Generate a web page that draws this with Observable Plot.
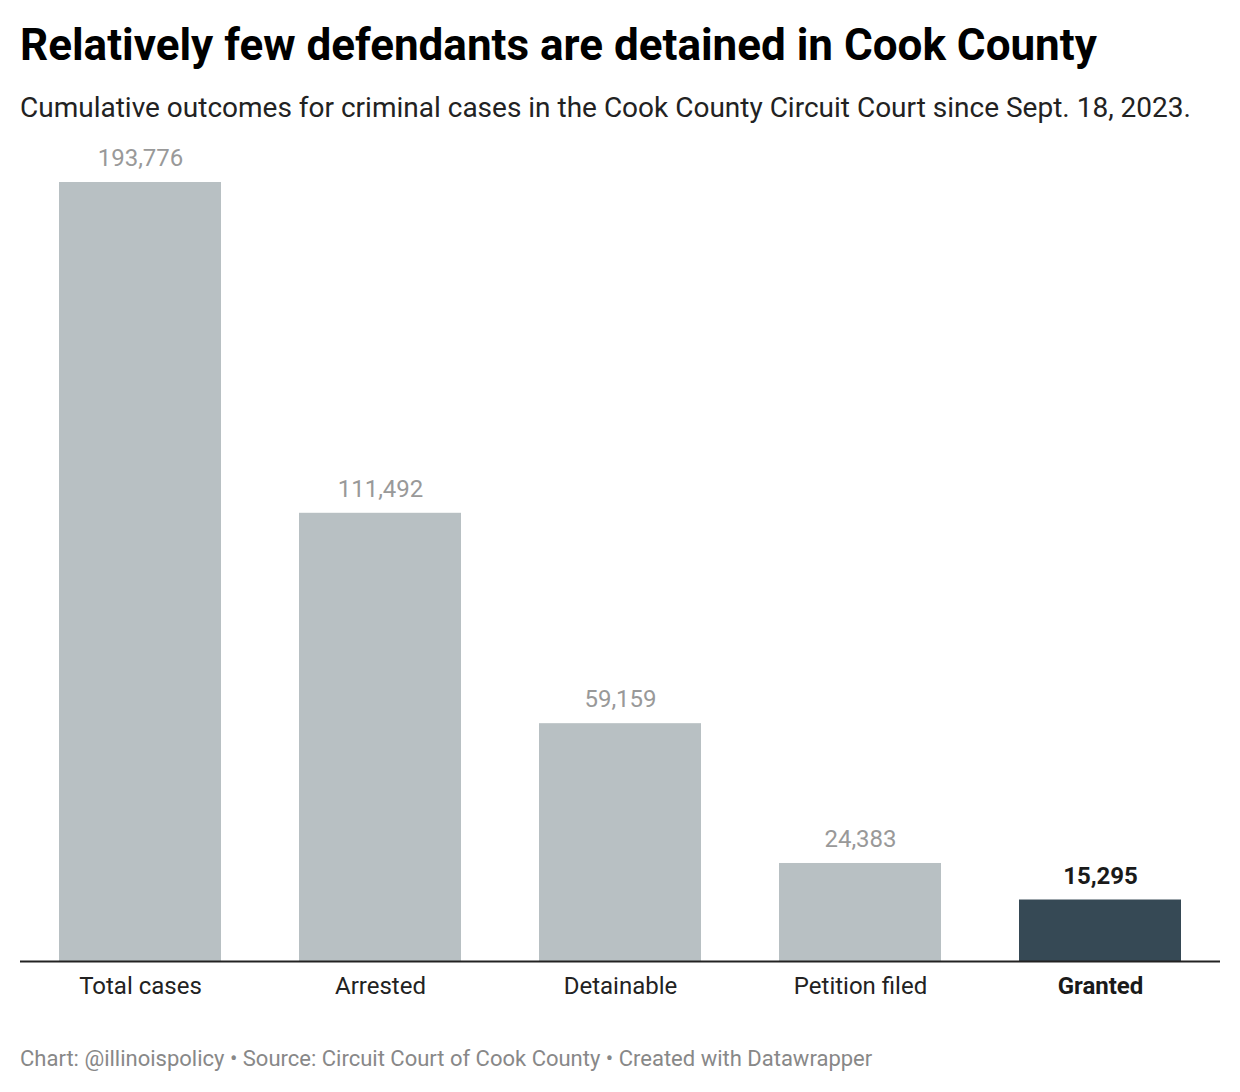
<!DOCTYPE html>
<html>
<head>
<meta charset="utf-8">
<script src="https://cdn.jsdelivr.net/npm/d3@7"></script>
<script src="https://cdn.jsdelivr.net/npm/@observablehq/plot@0.6"></script>
<style>
  body { margin: 0; background: #fff; font-family: Roboto, sans-serif; width: 1240px; height: 1092px; position: relative; overflow: hidden; }
  #title { position: absolute; left: 20px; top: 17px; font-size: 44px; font-weight: 700; color: #000; line-height: 56px; white-space: nowrap; }
  #subtitle { position: absolute; left: 20px; top: 90px; font-size: 28px; color: #222; line-height: 36px; white-space: nowrap; }
  #chart { position: absolute; left: 0; top: 140px; }
  #footer { position: absolute; left: 20px; top: 1045px; font-size: 22px; color: #888; line-height: 28px; white-space: nowrap; }
</style>
</head>
<body>
<div id="title">Relatively few defendants are detained in Cook County</div>
<div id="subtitle">Cumulative outcomes for criminal cases in the Cook County Circuit Court since Sept. 18, 2023.</div>
<div id="chart"></div>
<div id="footer">Chart: @illinoispolicy • Source: Circuit Court of Cook County • Created with Datawrapper</div>
<script>
const categories = ["Total cases", "Arrested", "Detainable", "Petition filed", "Granted"];
const values = [193776, 111492, 59159, 24383, 15295];
const highlighted = ["Granted"];

const data = categories.map((c, i) => ({category: c, value: values[i], hi: highlighted.includes(c)}));
const normal = data.filter(d => !d.hi);
const hi = data.filter(d => d.hi);
const fmt = d3.format(",");

const chart = Plot.plot({
  width: 1240,
  height: 870,
  marginLeft: 20,
  marginRight: 20,
  marginTop: 0,
  marginBottom: 49,
  style: {fontFamily: "Roboto, sans-serif", background: "#fff"},
  x: {domain: categories, paddingInner: 0.325, paddingOuter: 0.1625, axis: null},
  y: {domain: [0, 193776], range: [821, 42], axis: null},
  marks: [
    Plot.barY(data, {x: "category", y: "value", fill: d => d.hi ? "#364955" : "#b8c0c3"}),
    Plot.ruleY([0], {stroke: "#222", strokeWidth: 2}),
    Plot.text(normal, {
      x: "category", y: "value", text: d => fmt(d.value), dy: -24, lineAnchor: "middle",
      fontSize: 24, fill: "#999"
    }),
    Plot.text(hi, {
      x: "category", y: "value", text: d => fmt(d.value), dy: -24, lineAnchor: "middle",
      fontSize: 24, fill: "#1a1a1a", fontWeight: 700
    }),
    Plot.text(normal, {
      x: "category", y: 0, text: "category", dy: 25, lineAnchor: "middle",
      fontSize: 24, fill: "#222"
    }),
    Plot.text(hi, {
      x: "category", y: 0, text: "category", dy: 25, lineAnchor: "middle",
      fontSize: 24, fill: "#1a1a1a", fontWeight: 700
    })
  ]
});
document.getElementById("chart").appendChild(chart);
</script>
</body>
</html>
